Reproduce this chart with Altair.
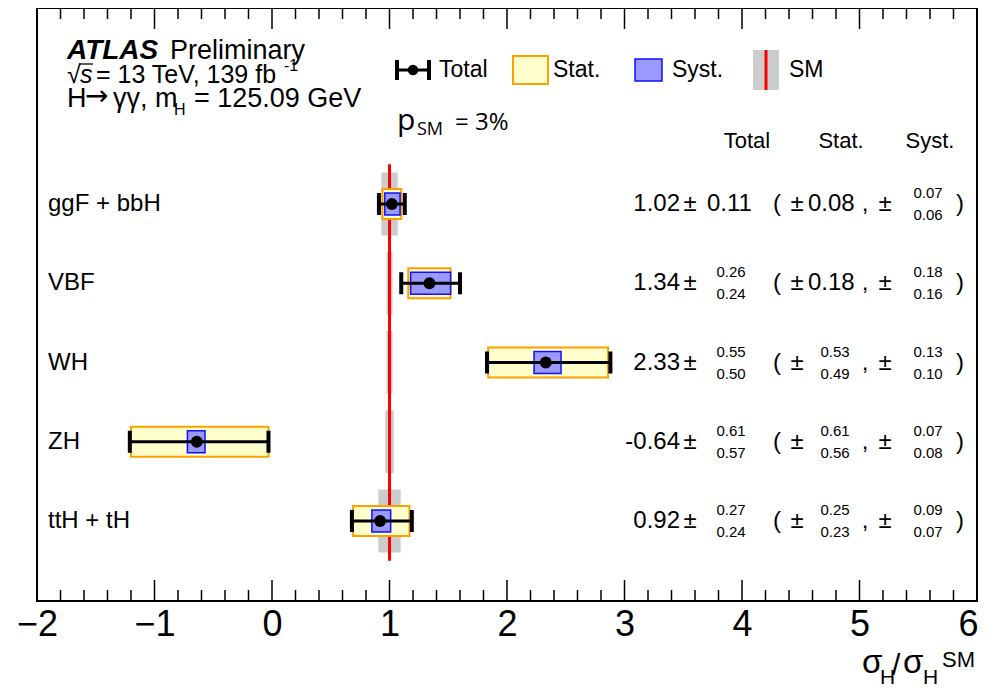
import altair as alt
import pandas as pd

# ---------------- data ----------------
processes = ["ggF + bbH", "VBF", "WH", "ZH", "ttH + tH"]
central = [1.02, 1.34, 2.33, -0.64, 0.92]
tot_up = [0.11, 0.26, 0.55, 0.61, 0.27]
tot_dn = [0.11, 0.24, 0.50, 0.57, 0.24]
stat_up = [0.08, 0.18, 0.53, 0.61, 0.25]
stat_dn = [0.08, 0.18, 0.49, 0.56, 0.23]
syst_up = [0.07, 0.18, 0.13, 0.07, 0.09]
syst_dn = [0.06, 0.16, 0.10, 0.08, 0.07]
sm_theory = [0.07, 0.026, 0.026, 0.036, 0.095]
sm_value = 1.0
x_domain = [-2, 6]
major_ticks = [-2, -1, 0, 1, 2, 3, 4, 5, 6]
minor_ticks = [round(k + f, 1) for k in range(-2, 6) for f in (0.2, 0.4, 0.6, 0.8)]

# ---------------- table ----------------
df = pd.DataFrame({
    "row": list(range(len(processes))),
    "process": processes,
    "central": central,
    "tot_lo": [c - d for c, d in zip(central, tot_dn)],
    "tot_hi": [c + u for c, u in zip(central, tot_up)],
    "stat_lo": [c - d for c, d in zip(central, stat_dn)],
    "stat_hi": [c + u for c, u in zip(central, stat_up)],
    "syst_lo": [c - d for c, d in zip(central, syst_dn)],
    "syst_hi": [c + u for c, u in zip(central, syst_up)],
    "sm_lo": [sm_value - t for t in sm_theory],
    "sm_hi": [sm_value + t for t in sm_theory],
    "val_txt": [f"{v:.2f}" for v in central],
    "tot_up_txt": [f"{v:.2f}" for v in tot_up],
    "tot_dn_txt": [f"{v:.2f}" for v in tot_dn],
    "stat_up_txt": [f"{v:.2f}" for v in stat_up],
    "stat_dn_txt": [f"{v:.2f}" for v in stat_dn],
    "syst_up_txt": [f"{v:.2f}" for v in syst_up],
    "syst_dn_txt": [f"{v:.2f}" for v in syst_dn],
    "tot_sym": [u == d for u, d in zip(tot_up, tot_dn)],
    "stat_sym": [u == d for u, d in zip(stat_up, stat_dn)],
    "syst_sym": [u == d for u, d in zip(syst_up, syst_dn)],
})
sm_df = pd.DataFrame({"sm": [sm_value]})
major_df = pd.DataFrame({"t": major_ticks})
minor_df = pd.DataFrame({"t": minor_ticks})
one = pd.DataFrame({"k": [0]})

FONT = "Liberation Sans"
W, H = 940, 593
n = len(processes)

xscale = alt.Scale(domain=x_domain, nice=False, zero=False)
yscale = alt.Scale(domain=[-2.473, 5.009], reverse=True, nice=False, zero=False)
xaxis = alt.Axis(values=major_ticks, ticks=False, domain=False, grid=False,
                 labelFontSize=36, labelFont=FONT, labelColor="black",
                 labelPadding=6, labelFlush=False, labelOverlap=False,
                 labelAlign=alt.condition(f"datum.value == {x_domain[1]}",
                                          alt.value("right"), alt.value("center")),
                 labelOffset=alt.condition(f"datum.value == {x_domain[1]}",
                                           alt.value(1), alt.value(0)),
                 title=None, format="d")


def X(f):
    return alt.X(f, scale=xscale, axis=xaxis)


def Y(f):
    return alt.Y(f, scale=yscale, axis=None)


base = alt.Chart(df)

# SM theory bands
sm_band = base.transform_calculate(
    y0="datum.row - 0.397", y1="datum.row + 0.397"
).mark_rect(color="#cccccc").encode(
    x=X("sm_lo:Q"), x2="sm_hi:Q", y=Y("y0:Q"), y2="y1:Q")

sm_line = alt.Chart(sm_df).transform_calculate(
    ya="-0.5", yb=str(n - 0.5)
).mark_rule(color="#ff0000", strokeWidth=3).encode(
    x=X("sm:Q"), y=Y("ya:Q"), y2="yb:Q")

stat_box = base.transform_calculate(
    y0="datum.row - 0.189", y1="datum.row + 0.189"
).mark_rect(fill="#ffffcc", stroke="#ffa000", strokeWidth=2).encode(
    x=X("stat_lo:Q"), x2="stat_hi:Q", y=Y("y0:Q"), y2="y1:Q")

syst_box = base.transform_calculate(
    y0="datum.row - 0.139", y1="datum.row + 0.139"
).mark_rect(fill="#9999ff", stroke="#1010ff", strokeWidth=1.5).encode(
    x=X("syst_lo:Q"), x2="syst_hi:Q", y=Y("y0:Q"), y2="y1:Q")

tot_line = base.mark_rule(color="black", strokeWidth=3).encode(
    x=X("tot_lo:Q"), x2="tot_hi:Q", y=Y("row:Q"))

caps = base.transform_fold(["tot_lo", "tot_hi"], as_=["side", "xcap"]).transform_calculate(
    y0="datum.row - 0.139", y1="datum.row + 0.139"
).mark_rule(color="black", strokeWidth=4).encode(
    x=X("xcap:Q"), y=Y("y0:Q"), y2="y1:Q")

points = base.mark_circle(color="black", opacity=1, size=140).encode(
    x=X("central:Q"), y=Y("row:Q"))

# axis ticks (inward, top and bottom)
ticks = [
    alt.Chart(major_df).mark_rule(color="black", strokeWidth=1.5).encode(
        x=X("t:Q"), y=alt.value(H - 21), y2=alt.value(H)),
    alt.Chart(minor_df).mark_rule(color="black", strokeWidth=1.5).encode(
        x=X("t:Q"), y=alt.value(H - 11), y2=alt.value(H)),
    alt.Chart(major_df).mark_rule(color="black", strokeWidth=1.5).encode(
        x=X("t:Q"), y=alt.value(0), y2=alt.value(21)),
    alt.Chart(minor_df).mark_rule(color="black", strokeWidth=1.5).encode(
        x=X("t:Q"), y=alt.value(0), y2=alt.value(11)),
]


def rowtext(field, x, size=24, align="left", dy=0, filt=None):
    c = base
    if filt:
        c = c.transform_filter(filt)
    return c.mark_text(font=FONT, fontSize=size, align=align, baseline="middle",
                       dy=dy, color="black").encode(
        x=alt.value(x), y=Y("row:Q"), text=f"{field}:N")


def rowconst(txt, x, size=24, align="center"):
    return base.mark_text(font=FONT, fontSize=size, align=align, baseline="middle",
                          color="black", text=txt).encode(x=alt.value(x), y=Y("row:Q"))


texts = [
    rowtext("process", 11),
    rowtext("val_txt", 643, align="right"),
    rowconst("±", 653),
    rowtext("tot_up_txt", 670, filt="datum.tot_sym"),
    rowtext("tot_up_txt", 694, size=15, align="center", dy=-11, filt="!datum.tot_sym"),
    rowtext("tot_dn_txt", 694, size=15, align="center", dy=11, filt="!datum.tot_sym"),
    rowconst("(", 740),
    rowconst("±", 760),
    rowtext("stat_up_txt", 771, filt="datum.stat_sym"),
    rowtext("stat_up_txt", 798, size=15, align="center", dy=-11, filt="!datum.stat_sym"),
    rowtext("stat_dn_txt", 798, size=15, align="center", dy=11, filt="!datum.stat_sym"),
    rowconst(",", 828),
    rowconst("±", 848),
    rowtext("syst_up_txt", 859, filt="datum.syst_sym"),
    rowtext("syst_up_txt", 891, size=15, align="center", dy=-11, filt="!datum.syst_sym"),
    rowtext("syst_dn_txt", 891, size=15, align="center", dy=11, filt="!datum.syst_sym"),
    rowconst(")", 923),
]


def lab(txt, x, y, size=23, align="left", baseline="middle", font=FONT, **kw):
    return alt.Chart(one).mark_text(text=txt, font=font, fontSize=size, align=align,
                                    baseline=baseline, color="black", **kw).encode(
        x=alt.value(x), y=alt.value(y))


def box(x0, x1, y0, y1, **kw):
    return alt.Chart(one).mark_rect(**kw).encode(
        x=alt.value(x0), x2=alt.value(x1), y=alt.value(y0), y2=alt.value(y1))


def seg(x0, x1, y0, y1, **kw):
    return alt.Chart(one).mark_rule(**kw).encode(
        x=alt.value(x0), x2=alt.value(x1), y=alt.value(y0), y2=alt.value(y1))


annotations = [
    # headers
    lab("Total", 710, 133, size=22, align="center"),
    lab("Stat.", 804, 133, size=22, align="center"),
    lab("Syst.", 893, 133, size=22, align="center"),
    # legend
    seg(359, 393, 62, 62, color="black", strokeWidth=3),
    seg(360, 360, 52, 72, color="black", strokeWidth=4),
    seg(392, 392, 52, 72, color="black", strokeWidth=4),
    alt.Chart(one).mark_circle(color="black", opacity=1, size=110).encode(
        x=alt.value(376), y=alt.value(62)),
    lab("Total", 402, 62),
    box(476, 511, 48, 76, fill="#ffffcc", stroke="#ffa000", strokeWidth=2),
    lab("Stat.", 516, 62),
    box(598, 625, 51, 73, fill="#9999ff", stroke="#1010ff", strokeWidth=1.5),
    lab("Syst.", 635, 62),
    box(716, 742, 42, 82, fill="#cccccc"),
    seg(729, 729, 42, 82, color="#ff0000", strokeWidth=3),
    lab("SM", 752, 62),
    # ATLAS block
    lab("ATLAS", 30, 51, size=28, baseline="alphabetic", fontWeight="bold", fontStyle="italic"),
    lab("Preliminary", 133, 51, size=27, baseline="alphabetic"),
    lab("√", 30, 75, size=25, baseline="alphabetic"),
    seg(42, 56, 56, 56, color="black", strokeWidth=1.3),
    lab("s", 43, 75, size=25, baseline="alphabetic", fontStyle="italic"),
    lab("= 13 TeV, 139 fb", 59, 75, size=25, baseline="alphabetic"),
    lab("-1", 247, 63, size=16, baseline="alphabetic"),
    lab("H", 30, 99, size=27, baseline="alphabetic"),
    lab("→", 48, 97, size=28, baseline="alphabetic", font="DejaVu Sans"),
    lab("γγ, m", 76, 99, size=27, baseline="alphabetic"),
    lab("H", 137, 107, size=16, baseline="alphabetic"),
    lab("= 125.09 GeV", 157, 99, size=27, baseline="alphabetic"),
    # p_SM
    lab("p", 360, 122, size=30, baseline="alphabetic", font="Open Sans"),
    lab("SM", 380, 127, size=18, baseline="alphabetic", font="Open Sans"),
    lab("= 3%", 418, 122, size=24, baseline="alphabetic", font="Open Sans"),
    # x title
    lab("σ", 825, 665, size=33, baseline="alphabetic"),
    lab("H", 843, 676, size=21, baseline="alphabetic"),
    lab("/", 855, 667, size=30, baseline="alphabetic"),
    lab("σ", 866, 665, size=33, baseline="alphabetic"),
    lab("H", 886, 676, size=21, baseline="alphabetic"),
    lab("SM", 938, 659, size=22, align="right", baseline="alphabetic"),
]

chart = alt.layer(
    sm_band, sm_line, stat_box, syst_box, tot_line, caps, points,
    *ticks, *texts, *annotations
).properties(
    width=W, height=H,
    autosize=alt.AutoSizeParams(type="none"),
    padding={"left": 29, "top": 0, "right": 2, "bottom": 88},
    background="white",
).configure_view(stroke="black", strokeWidth=2)

chart.save("out.html", embed_options={"renderer": "svg", "actions": False})
